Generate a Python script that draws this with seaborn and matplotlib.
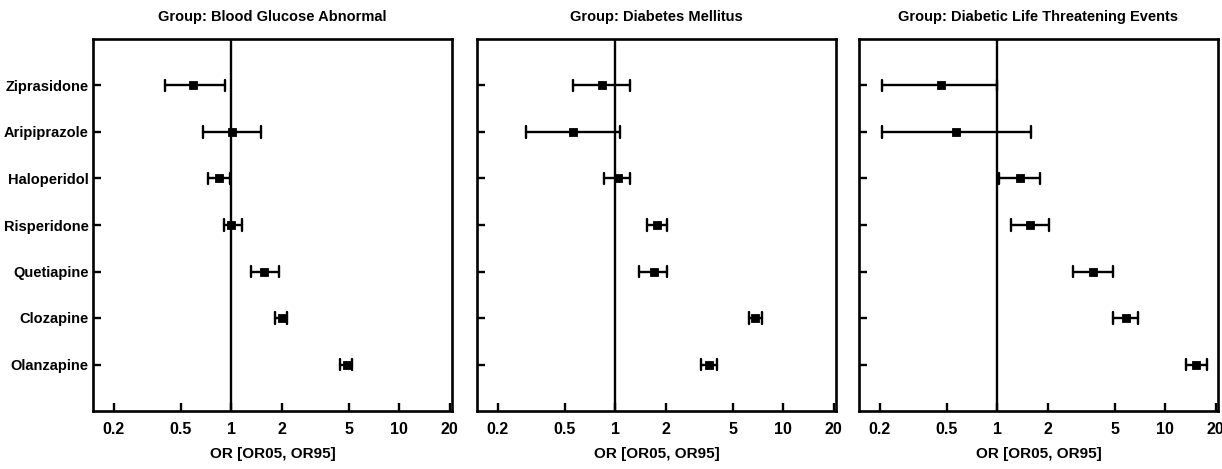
import pandas as pd
import seaborn as sns
import matplotlib.pyplot as plt
from matplotlib.ticker import FixedLocator, FixedFormatter, NullLocator

drugs = ["Ziprasidone", "Aripiprazole", "Haloperidol", "Risperidone",
         "Quetiapine", "Clozapine", "Olanzapine"]
groups = ["Blood Glucose Abnormal", "Diabetes Mellitus", "Diabetic Life Threatening Events"]

# odds ratio, lower (OR05) and upper (OR95) bound per group
or_bga = [0.59, 1.01, 0.84, 1.00, 1.57, 2.01, 4.90]
lo_bga = [0.405, 0.68, 0.73, 0.90, 1.31, 1.83, 4.45]
hi_bga = [0.92, 1.51, 0.985, 1.16, 1.93, 2.15, 5.25]

or_dm = [0.83, 0.56, 1.03, 1.78, 1.70, 6.80, 3.59]
lo_dm = [0.56, 0.293, 0.86, 1.55, 1.39, 6.23, 3.25]
hi_dm = [1.23, 1.06, 1.23, 2.04, 2.04, 7.44, 4.03]

or_dlte = [0.46, 0.57, 1.36, 1.57, 3.73, 5.80, 15.2]
lo_dlte = [0.207, 0.207, 1.02, 1.21, 2.83, 4.90, 13.2]
hi_dlte = [0.99, 1.59, 1.79, 2.04, 4.90, 6.90, 17.6]

ticks = [0.2, 0.5, 1, 2, 5, 10, 20]
tick_labels = ["0.2", "0.5", "1", "2", "5", "10", "20"]

series = [(or_bga, lo_bga, hi_bga), (or_dm, lo_dm, hi_dm), (or_dlte, lo_dlte, hi_dlte)]

sns.set_style("white")
plt.rcParams['font.family'] = ['Liberation Sans Narrow', 'Liberation Sans', 'DejaVu Sans']
plt.rcParams['font.weight'] = 'bold'
for key in ['text.color', 'axes.labelcolor', 'xtick.color', 'ytick.color']:
    plt.rcParams[key] = 'black'

fig = plt.figure(figsize=(12.22, 4.69), dpi=100)
lefts = [93, 477, 859]
for k, (g, (o, l, h)) in enumerate(zip(groups, series)):
    ax = fig.add_axes([lefts[k] / 1222, 1 - 411 / 469, 359 / 1222, 372 / 469])
    # long form: lower, estimate, upper -> median = OR, full range = interval
    rows = []
    for d, a, b, c in zip(drugs, l, o, h):
        rows += [(d, a), (d, b), (d, c)]
    df = pd.DataFrame(rows, columns=["drug", "OR"])
    ax.set_xscale("log")
    sns.pointplot(data=df, x="OR", y="drug", order=drugs, estimator="median",
                  errorbar=("pi", 100), color="black", markers="s", linestyle="none",
                  markersize=4.3, capsize=0.24, err_kws={"linewidth": 1.7}, ax=ax)
    ax.axvline(1, color="black", lw=1.7, zorder=0)
    ax.set_xlim(0.15, 20.6)
    ax.set_ylim(7, -1)
    ax.xaxis.set_major_locator(FixedLocator(ticks))
    ax.xaxis.set_major_formatter(FixedFormatter(tick_labels))
    ax.xaxis.set_minor_locator(NullLocator())
    ax.tick_params(direction="in", length=6, width=1.7, labelsize=11.5,
                   bottom=True, left=True, top=False, right=False)
    ax.tick_params(axis="x", pad=8)
    ax.tick_params(axis="y", pad=3, labelsize=10.5)
    for s in ax.spines.values():
        s.set_linewidth(1.9)
        s.set_color("black")
    ax.set_xlabel("OR [OR05, OR95]", fontsize=11, fontweight="bold", labelpad=7)
    ax.set_ylabel("")
    ax.set_title("Group: " + g, fontsize=10.5, fontweight="bold", pad=13)
    if k > 0:
        ax.set_yticklabels([])

fig.savefig("out.png", dpi=100)
